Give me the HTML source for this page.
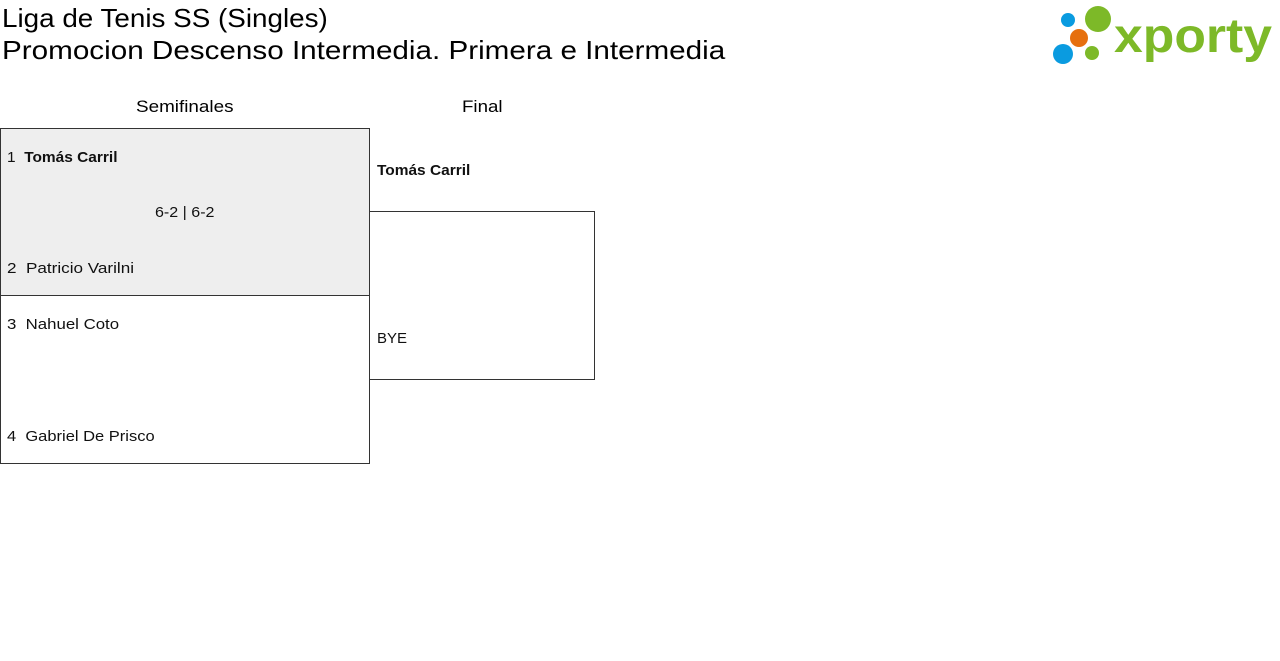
<!DOCTYPE html>
<html><head><meta charset="utf-8"><style>
body{margin:0;width:1280px;height:661px;background:#fff;font-family:"Liberation Sans",sans-serif;color:#000;position:relative;overflow:hidden}
.t{position:absolute;white-space:nowrap;transform-origin:0 0}
.box{position:absolute;box-sizing:border-box;border:1px solid #333}
.n{color:#111}
</style></head><body>
<div class="t" style="left:2px;top:2px;font-size:26px;line-height:32px;transform:scaleX(1.07)">Liga de Tenis SS (Singles)</div>
<div class="t" style="left:2px;top:34px;font-size:26px;line-height:32px;transform:scaleX(1.14)">Promocion Descenso Intermedia. Primera e Intermedia</div>
<svg style="position:absolute;left:1050px;top:2px" width="226" height="66">
<circle cx="18" cy="18" r="7" fill="#0a9be0"/>
<circle cx="48" cy="17" r="13" fill="#7db928"/>
<circle cx="29" cy="36" r="9" fill="#e6700f"/>
<circle cx="13" cy="52" r="10" fill="#0a9be0"/>
<circle cx="42" cy="51" r="7" fill="#7db928"/>
<text x="64" y="50" font-family="Liberation Sans" font-weight="bold" font-size="48" fill="#7db928" textLength="158" lengthAdjust="spacingAndGlyphs">xporty</text>
</svg>
<div class="t" style="left:136px;top:97px;font-size:17px;transform:scaleX(1.11)">Semifinales</div>
<div class="t" style="left:462px;top:97px;font-size:17px;transform:scaleX(1.1)">Final</div>
<div class="box" style="left:0;top:128px;width:370px;height:168px;background:#eee"></div>
<div class="box" style="left:0;top:295px;width:370px;height:169px"></div>
<div class="box" style="left:369px;top:211px;width:226px;height:169px;border-left:none"></div>
<div class="t n" style="left:7px;top:149px;font-size:15px;transform:scaleX(1.03)">1&nbsp;&nbsp;<b>Tomás Carril</b></div>
<div class="t n" style="left:155px;top:204px;font-size:15px;transform:scaleX(1.07)">6-2 | 6-2</div>
<div class="t n" style="left:7px;top:260px;font-size:15px;transform:scaleX(1.14)">2&nbsp;&nbsp;Patricio Varilni</div>
<div class="t n" style="left:7px;top:316px;font-size:15px;transform:scaleX(1.12)">3&nbsp;&nbsp;Nahuel Coto</div>
<div class="t n" style="left:7px;top:428px;font-size:15px;transform:scaleX(1.1)">4&nbsp;&nbsp;Gabriel De Prisco</div>
<div class="t n" style="left:377px;top:162px;font-size:15px;transform:scaleX(1.03)"><b>Tomás Carril</b></div>
<div class="t n" style="left:377px;top:330px;font-size:15px">BYE</div>
</body></html>
